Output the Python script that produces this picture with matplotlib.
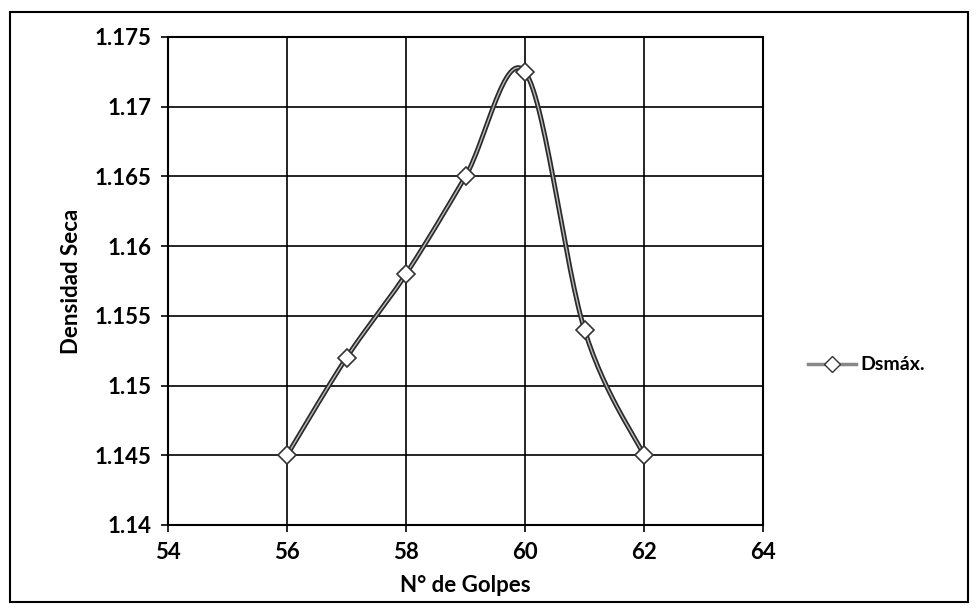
import numpy as np
import matplotlib
matplotlib.use("Agg")
import matplotlib.pyplot as plt
from matplotlib.patches import Rectangle
from matplotlib.lines import Line2D

plt.rcParams['font.family'] = ['Lato', 'DejaVu Sans']

golpes = [56, 57, 58, 59, 60, 61, 62]
densidad = [1.145, 1.152, 1.158, 1.165, 1.1725, 1.154, 1.145]
xticks = [54, 56, 58, 60, 62, 64]
yticks = [1.14, 1.145, 1.15, 1.155, 1.16, 1.165, 1.17, 1.175]
ytick_labels = ['1.14', '1.145', '1.15', '1.155', '1.16', '1.165', '1.17', '1.175']
series_name = 'Dsmáx.'


def smooth(x, y, n=30):
    # Catmull-Rom style smoothing (like Excel smoothed lines)
    x = np.asarray(x, float); y = np.asarray(y, float)
    px = np.concatenate([[x[0]], x, [x[-1]]])
    py = np.concatenate([[y[0]], y, [y[-1]]])
    xs, ys = [], []
    for i in range(1, len(px) - 2):
        p0 = np.array([px[i - 1], py[i - 1]]); p1 = np.array([px[i], py[i]])
        p2 = np.array([px[i + 1], py[i + 1]]); p3 = np.array([px[i + 2], py[i + 2]])
        c1 = p1 + (p2 - p0) / 6.0
        c2 = p2 - (p3 - p1) / 6.0
        t = np.linspace(0, 1, n)[:, None]
        pts = ((1 - t) ** 3) * p1 + 3 * ((1 - t) ** 2) * t * c1 + 3 * (1 - t) * t ** 2 * c2 + t ** 3 * p2
        xs.extend(pts[:, 0]); ys.extend(pts[:, 1])
    return np.array(xs), np.array(ys)


fig = plt.figure(figsize=(9.78, 6.12), dpi=100)
ax = fig.add_axes([168 / 978, 1 - 525 / 612, (763 - 168) / 978, (525 - 37) / 612])

fig.patches.append(Rectangle((10 / 978, 10 / 612), 958 / 978, 590 / 612,
                             transform=fig.transFigure, fill=False, edgecolor='black', linewidth=1.5))

sx, sy = smooth(golpes, densidad)
ax.plot(sx, sy, color='#2a2a2a', linewidth=3.5, zorder=3, solid_capstyle='round')
ax.plot(sx, sy, color='#bbbbbb', linewidth=1.0, zorder=3)
ax.plot(golpes, densidad, linestyle='none', marker='D', markersize=9,
        markerfacecolor='white', markeredgecolor='#333333', markeredgewidth=1.2, zorder=4)

ax.set_xlim(54, 64)
ax.set_ylim(1.14, 1.175)
ax.set_xticks(xticks)
ax.set_xticklabels([str(v) for v in xticks], fontsize=16, fontweight='bold')
ax.set_yticks(yticks)
ax.set_yticklabels(ytick_labels, fontsize=16, fontweight='bold')
ax.grid(True, color='black', linewidth=1.2)
ax.set_axisbelow(True)
for s in ax.spines.values():
    s.set_linewidth(1.5)
ax.tick_params(axis='both', length=5, width=1.2, direction='out', pad=7)

ax.set_xlabel('N° de Golpes', fontsize=16, fontweight='bold', labelpad=9)
ax.set_ylabel('Densidad Seca', fontsize=16, fontweight='bold', labelpad=9)

h = Line2D([0], [0], color='#888888', linewidth=2.5, marker='D', markersize=8,
           markerfacecolor='white', markeredgecolor='#333333')
fig.legend([h], [series_name], loc='center left', bbox_to_anchor=(790 / 978, 1 - 365 / 612),
           frameon=False, handlelength=2.5, handletextpad=0.2,
           prop={'weight': 'bold', 'size': 14, 'family': ['Lato', 'DejaVu Sans']})

fig.savefig('out.png', dpi=100)
